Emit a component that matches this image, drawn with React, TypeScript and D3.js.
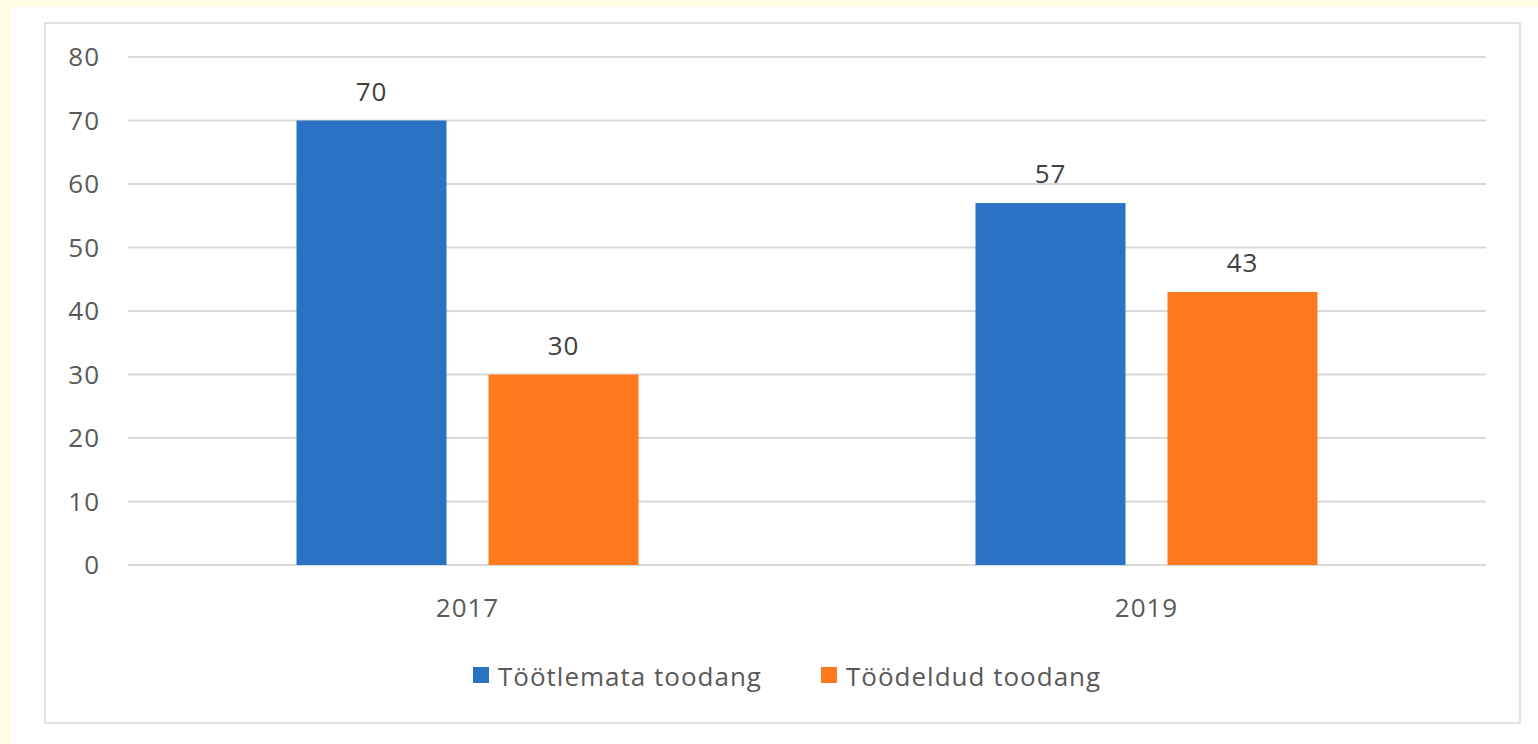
import React, { useEffect, useRef } from 'react';
import * as d3 from 'd3';

const YEARS = ['2017', '2019'];
const SERIES = ['Töötlemata toodang', 'Töödeldud toodang'];
const VALUES = [
  [70, 30],
  [57, 43],
];
const Y_TICKS = [0, 10, 20, 30, 40, 50, 60, 70, 80];
const COLORS = ['#2972c4', '#ff7a1c'];

export default function App() {
  const svgRef = useRef<SVGSVGElement>(null);

  useEffect(() => {
    const width = 1538;
    const height = 744;
    const plot = { left: 128, right: 1486, top: 57, bottom: 565 };
    const font = '"Open Sans", sans-serif';

    const svg = d3.select(svgRef.current);
    svg.selectAll('*').remove();
    svg.attr('width', width).attr('height', height);

    // page background + white panel + chart frame
    svg.append('rect').attr('width', width).attr('height', height).attr('fill', '#fffde4');
    svg.append('rect').attr('x', 10).attr('y', 7).attr('width', width - 10).attr('height', height - 7).attr('fill', '#ffffff');
    svg.append('rect').attr('x', 45).attr('y', 23).attr('width', 1475).attr('height', 700)
      .attr('fill', 'none').attr('stroke', '#d9d9d9').attr('stroke-width', 1.5);

    const y = d3.scaleLinear().domain([0, 80]).range([plot.bottom, plot.top]);
    const x0 = d3.scaleBand().domain(YEARS).range([plot.left, plot.right]);
    const x1 = d3.scaleBand().domain(SERIES).range([0, x0.bandwidth()])
      .paddingInner(0.21875).paddingOuter(0.8776);

    const label = (sel: d3.Selection<SVGTextElement, unknown, null, undefined>, size: number) =>
      sel.style('font-family', font).style('font-size', `${size}px`).style('letter-spacing', '1px');

    // gridlines + y labels
    Y_TICKS.forEach(t => {
      svg.append('line').attr('x1', plot.left).attr('x2', plot.right)
        .attr('y1', y(t)).attr('y2', y(t)).attr('stroke', '#d9d9d9').attr('stroke-width', 2);
      label(svg.append('text').attr('x', 100).attr('y', y(t)).attr('dy', '0.35em')
        .attr('text-anchor', 'end'), 26).style('fill', '#595959').text(t);
    });

    // bars + value labels
    YEARS.forEach((yr, i) => {
      SERIES.forEach((s, j) => {
        const v = VALUES[i][j];
        const bx = x0(yr)! + x1(s)!;
        svg.append('rect').attr('x', bx).attr('y', y(v))
          .attr('width', x1.bandwidth()).attr('height', y(0) - y(v)).attr('fill', COLORS[j]);
        label(svg.append('text').attr('x', bx + x1.bandwidth() / 2).attr('y', y(v) - 29).attr('dy', '0.35em')
          .attr('text-anchor', 'middle'), 26).style('fill', '#404040').text(v);
      });
      label(svg.append('text').attr('x', x0(yr)! + x0.bandwidth() / 2).attr('y', 608).attr('dy', '0.35em')
        .attr('text-anchor', 'middle'), 26).style('fill', '#595959').text(yr);
    });

    // legend
    const legendX = [473, 821];
    SERIES.forEach((s, j) => {
      svg.append('rect').attr('x', legendX[j]).attr('y', 667).attr('width', 16).attr('height', 16)
        .attr('fill', COLORS[j]);
      label(svg.append('text').attr('x', legendX[j] + 25).attr('y', 677).attr('dy', '0.35em'), 26)
        .style('fill', '#595959').text(s);
    });
  }, []);

  return (
    <div style={{ position: 'fixed', left: 0, top: 0, width: 1538, height: 744 }}>
      <svg ref={svgRef} style={{ display: 'block' }}></svg>
    </div>
  );
}
